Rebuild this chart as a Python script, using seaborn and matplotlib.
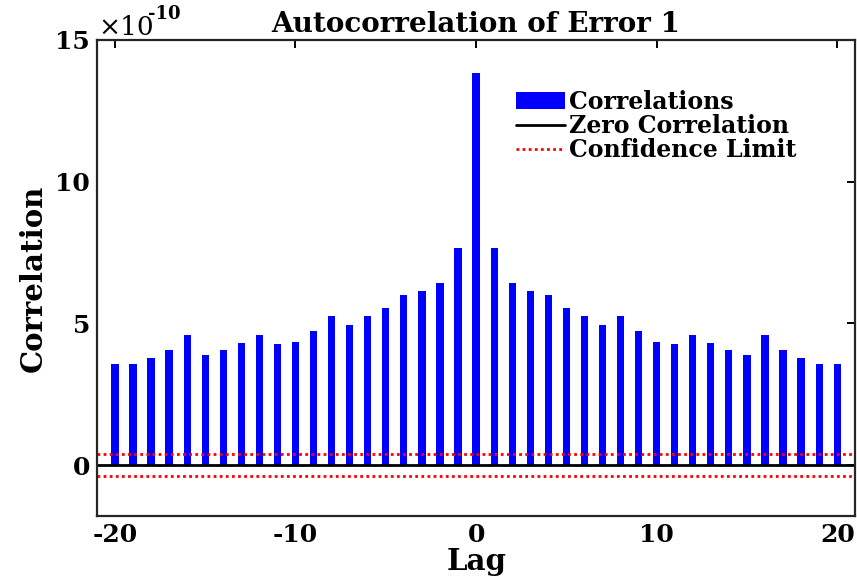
import numpy as np
import matplotlib
matplotlib.use("Agg")
import matplotlib.pyplot as plt
import seaborn as sns
from matplotlib.lines import Line2D
from matplotlib.patches import Patch

# data (correlation in units of 1e-10)
lags = np.arange(-20, 21)
corr = [3.58, 3.56, 3.79, 4.08, 4.58, 3.89, 4.05, 4.31, 4.61, 4.26,
        4.35, 4.75, 5.27, 4.96, 5.27, 5.56, 6.01, 6.14, 6.44, 7.67,
        13.82,
        7.67, 6.44, 6.14, 6.02, 5.56, 5.27, 4.96, 5.27, 4.75, 4.35,
        4.26, 4.61, 4.31, 4.05, 3.89, 4.58, 4.08, 3.79, 3.56, 3.58]
conf_limit = 0.39

sns.set_style("white")
plt.rcParams['font.family'] = ['DejaVu Serif']
plt.rcParams['font.weight'] = 'bold'
plt.rcParams['text.color'] = 'black'
plt.rcParams['axes.labelcolor'] = 'black'
plt.rcParams['xtick.color'] = 'black'
plt.rcParams['ytick.color'] = 'black'

fig = plt.figure(figsize=(8.57, 5.88), dpi=100)
ax = fig.add_axes([0.113, 0.122, 0.885, 0.81])

sns.barplot(x=lags, y=corr, native_scale=True, width=0.4, color="blue",
            saturation=1, edgecolor="none", ax=ax)

ax.axhline(0, color="black", lw=2)
ax.axhline(conf_limit, color="red", lw=2, ls=(0, (1, 1.2)))
ax.axhline(-conf_limit, color="red", lw=2, ls=(0, (1, 1.2)))

ax.set_xlim(-21, 21)
ax.set_ylim(-1.8, 15)
ax.set_xticks([-20, -10, 0, 10, 20])
ax.set_xticklabels(["-20", "-10", "0", "10", "20"])
ax.set_yticks([0, 5, 10, 15])

for s in ax.spines.values():
    s.set_visible(True)
    s.set_color("#262626")
    s.set_linewidth(1.6)
ax.tick_params(direction="in", length=6, width=1.4, top=True, right=True,
               labelsize=18, pad=5)
for lab in ax.get_xticklabels() + ax.get_yticklabels():
    lab.set_fontweight("bold")

ax.set_xlabel("Lag", fontsize=21, fontweight="bold", labelpad=0)
ax.set_ylabel("Correlation", fontsize=21, fontweight="bold", labelpad=5)
ax.set_title("Autocorrelation of Error 1", fontsize=20, fontweight="bold", pad=6)
ax.text(0.002, 1.0, "×10", transform=ax.transAxes, fontsize=19,
        fontweight="normal", ha="left", va="bottom")
ax.text(0.068, 1.035, "-10", transform=ax.transAxes, fontsize=13,
        fontweight="bold", ha="left", va="bottom")

handles = [Patch(facecolor="blue", edgecolor="none"),
           Line2D([0], [0], color="black", lw=2),
           Line2D([0], [0], color="red", lw=2, ls=(0, (1, 1.2)))]
ax.legend(handles, ["Correlations", "Zero Correlation", "Confidence Limit"],
          loc="upper left", bbox_to_anchor=(0.54, 0.915), frameon=False,
          prop={"size": 17, "weight": "bold"}, handlelength=2.1,
          handletextpad=0.15, labelspacing=0.0, borderaxespad=0)

fig.savefig("out.png", dpi=100)
